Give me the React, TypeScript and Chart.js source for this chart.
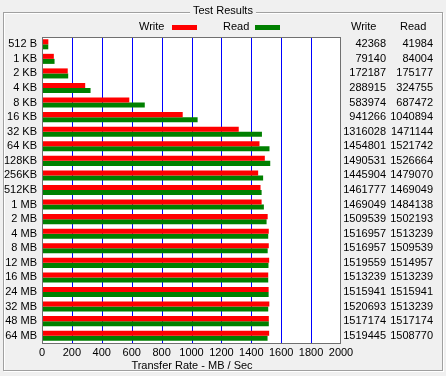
import React, { useEffect, useRef } from 'react';
import { Chart, registerables } from 'chart.js';

Chart.register(...registerables);

const categories = ['512 B', '1 KB', '2 KB', '4 KB', '8 KB', '16 KB', '32 KB', '64 KB', '128KB', '256KB', '512KB', '1 MB', '2 MB', '4 MB', '8 MB', '12 MB', '16 MB', '24 MB', '32 MB', '48 MB', '64 MB'];
const writeKB = [42368, 79140, 172187, 288915, 583974, 941266, 1316028, 1454801, 1490531, 1445904, 1461777, 1469049, 1509539, 1516957, 1516957, 1519559, 1513239, 1515941, 1520693, 1517174, 1519445];
const readKB = [41984, 84004, 175177, 324755, 687472, 1040894, 1471144, 1521742, 1526664, 1479070, 1469049, 1484138, 1502193, 1513239, 1509539, 1514957, 1513239, 1515941, 1513239, 1517174, 1508770];
const xTicks = [0, 200, 400, 600, 800, 1000, 1200, 1400, 1600, 1800, 2000];
const titleText = 'Test Results';
const axisTitle = 'Transfer Rate - MB / Sec';
const seriesNames = ['Write', 'Read'];
const seriesColors = ['#ff0000', '#008000'];

const FONT = '"Liberation Sans", Arial, sans-serif';
const xMin = xTicks[0];
const xMax = xTicks[xTicks.length - 1];

const decorPlugin = {
  id: 'decor',
  beforeDraw(chart: any) {
    const ctx = chart.ctx as CanvasRenderingContext2D;
    const { width, height, chartArea } = chart;
    ctx.save();
    ctx.fillStyle = '#f0f0f0';
    ctx.fillRect(0, 0, width, height);
    ctx.lineWidth = 1;
    ctx.strokeStyle = '#ffffff';
    ctx.strokeRect(4.5, 13.5, 439, 358);
    ctx.strokeStyle = '#a0a0a0';
    ctx.strokeRect(3.5, 12.5, 439, 358);
    ctx.font = `11px ${FONT}`;
    const tw = ctx.measureText(titleText).width;
    const tx = 223 - tw / 2;
    ctx.fillStyle = '#f0f0f0';
    ctx.fillRect(tx - 3, 5, tw + 6, 12);
    ctx.fillStyle = '#000';
    ctx.textBaseline = 'middle';
    ctx.textAlign = 'left';
    ctx.fillText(titleText, Math.round(tx), 11);
    ctx.fillText(seriesNames[0], 139, 27);
    ctx.fillStyle = seriesColors[0];
    ctx.fillRect(172, 25, 25, 5);
    ctx.fillStyle = '#000';
    ctx.fillText(seriesNames[1], 223, 27);
    ctx.fillStyle = seriesColors[1];
    ctx.fillRect(255, 25, 25, 5);
    ctx.fillStyle = '#000';
    ctx.fillText(seriesNames[0], 351, 27);
    ctx.fillText(seriesNames[1], 400, 27);
    ctx.fillStyle = '#ffffff';
    ctx.fillRect(chartArea.left, chartArea.top, chartArea.right - chartArea.left, chartArea.bottom - chartArea.top);
    ctx.restore();
  },
  beforeDatasetsDraw(chart: any) {
    const ctx = chart.ctx as CanvasRenderingContext2D;
    const { chartArea } = chart;
    const xScale = chart.scales.x;
    ctx.save();
    ctx.fillStyle = '#0000ff';
    xTicks.slice(1, -1).forEach((v) => {
      const x = Math.round(xScale.getPixelForValue(v));
      ctx.fillRect(x, Math.round(chartArea.top), 1, Math.round(chartArea.bottom - chartArea.top));
    });
    ctx.restore();
  },
  afterDraw(chart: any) {
    const ctx = chart.ctx as CanvasRenderingContext2D;
    const { chartArea } = chart;
    const yScale = chart.scales.y;
    ctx.save();
    ctx.strokeStyle = '#707070';
    ctx.lineWidth = 1;
    ctx.strokeRect(chartArea.left + 0.5, chartArea.top + 0.5, chartArea.right - chartArea.left - 1, chartArea.bottom - chartArea.top);
    ctx.fillStyle = '#000';
    ctx.font = `11px ${FONT}`;
    ctx.textBaseline = 'middle';
    ctx.textAlign = 'right';
    categories.forEach((_, i) => {
      const y = Math.round(yScale.getPixelForValue(i));
      ctx.fillText(String(writeKB[i]), 386, y);
      ctx.fillText(String(readKB[i]), 433, y);
    });
    ctx.textAlign = 'center';
    ctx.fillText(axisTitle, Math.round((chartArea.left + chartArea.right) / 2), 366);
    ctx.restore();
  },
};

export default function App() {
  const ref = useRef<HTMLCanvasElement | null>(null);
  useEffect(() => {
    if (!ref.current) return;
    const chart = new Chart(ref.current, {
      type: 'bar',
      data: {
        labels: categories,
        datasets: [
          { label: seriesNames[0], data: writeKB.map((v) => v / 1000), backgroundColor: seriesColors[0], borderWidth: 0, barPercentage: 1, categoryPercentage: 0.69 },
          { label: seriesNames[1], data: readKB.map((v) => v / 1000), backgroundColor: seriesColors[1], borderWidth: 0, barPercentage: 1, categoryPercentage: 0.69 },
        ],
      },
      options: {
        indexAxis: 'y',
        responsive: false,
        animation: false,
        devicePixelRatio: 1,
        layout: { padding: { top: 37, right: 105, left: 0, bottom: 0 } },
        plugins: { legend: { display: false }, tooltip: { enabled: false }, title: { display: false } },
        scales: {
          x: {
            type: 'linear',
            min: xMin,
            max: xMax,
            afterFit: (s: any) => { s.height = 33; },
            afterBuildTicks: (s: any) => { s.ticks = xTicks.map((v) => ({ value: v })); },
            ticks: {
              autoSkip: false,
              maxRotation: 0,
              padding: 3,
              color: '#000',
              font: { family: FONT, size: 11 },
              callback: (v: any) => String(v),
            },
            grid: { display: false, drawTicks: false },
            border: { display: false },
          },
          y: {
            type: 'category',
            afterFit: (s: any) => { s.width = 42; },
            ticks: { autoSkip: false, padding: 5, color: '#000', font: { family: FONT, size: 11 } },
            grid: { display: false, drawTicks: false },
            border: { display: false },
          },
        },
      },
      plugins: [decorPlugin],
    });
    return () => chart.destroy();
  }, []);
  return (
    <div style={{ position: 'fixed', left: 0, top: 0, width: 446, height: 376 }}>
      <canvas ref={ref} width={446} height={376} style={{ width: 446, height: 376, display: 'block' }} />
    </div>
  );
}
